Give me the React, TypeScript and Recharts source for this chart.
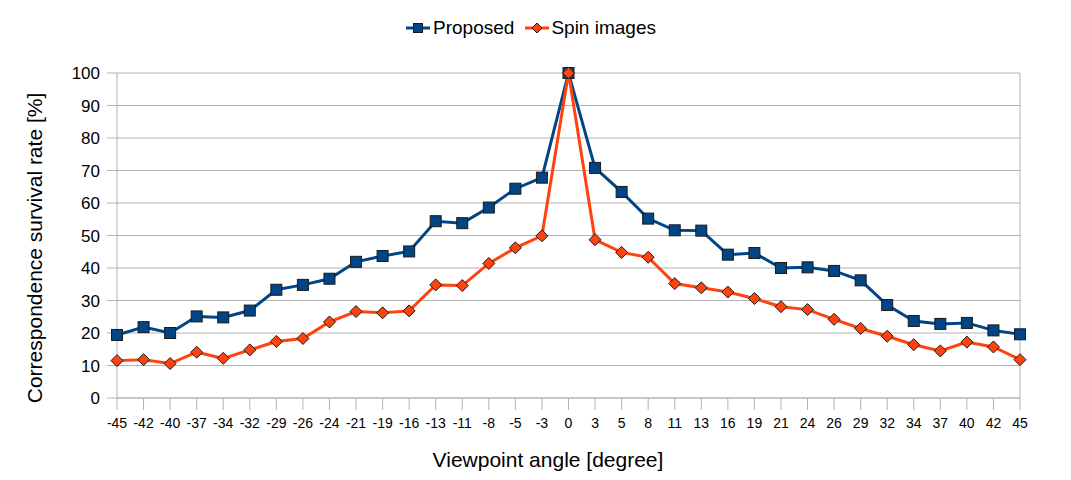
import React from 'react';
import { LineChart, Line, XAxis, YAxis, CartesianGrid, Legend, ReferenceLine, Label } from 'recharts';

const angles = [
  -45, -42, -40, -37, -34, -32, -29, -26, -24, -21, -19, -16, -13, -11, -8, -5, -3, 0,
  3, 5, 8, 11, 13, 16, 19, 21, 24, 26, 29, 32, 34, 37, 40, 42, 45,
];

const proposed = [
  19.4, 21.8, 20.0, 25.1, 24.8, 26.9, 33.3, 34.8, 36.7, 41.9, 43.7, 45.1, 54.4, 53.8, 58.6, 64.4, 67.8, 100,
  70.8, 63.4, 55.2, 51.6, 51.5, 44.1, 44.6, 40.0, 40.2, 39.1, 36.2, 28.6, 23.7, 22.8, 23.1, 20.8, 19.6,
];

const spinImages = [
  11.5, 11.8, 10.6, 14.1, 12.2, 14.8, 17.4, 18.3, 23.4, 26.6, 26.2, 26.8, 34.8, 34.6, 41.4, 46.2, 49.9, 100,
  48.7, 44.8, 43.3, 35.2, 33.9, 32.6, 30.6, 28.1, 27.2, 24.2, 21.4, 19.0, 16.4, 14.5, 17.2, 15.7, 11.8,
];

const yTicks = [0, 10, 20, 30, 40, 50, 60, 70, 80, 90, 100];

const FONT = '"Liberation Sans", Arial, sans-serif';
const BLUE = '#004586';
const ORANGE = '#ff420e';
const GRID = '#b3b3b3';

const data = angles.map((angle, i) => ({
  angle,
  proposed: proposed[i],
  spin: spinImages[i],
}));

const SquareDot = (props: any) => {
  const { cx, cy } = props;
  if (cx == null || cy == null) return null;
  return <rect x={cx - 5.5} y={cy - 5.5} width={11} height={11} fill={BLUE} stroke="#1a1a1a" strokeWidth={1} />;
};

const DiamondDot = (props: any) => {
  const { cx, cy } = props;
  if (cx == null || cy == null) return null;
  const r = 6;
  return (
    <path
      d={`M${cx},${cy - r}L${cx + r},${cy}L${cx},${cy + r}L${cx - r},${cy}Z`}
      fill={ORANGE}
      stroke="#1a1a1a"
      strokeWidth={1}
    />
  );
};

const LegendContent = () => (
  <div style={{ height: 63 }}>
    <div
      style={{
        height: 36,
        display: 'flex',
        alignItems: 'center',
        justifyContent: 'center',
        fontFamily: FONT,
        fontSize: 19,
        color: '#000',
        paddingLeft: 42,
      }}
    >
      <svg width={24} height={14} style={{ marginRight: 3 }}>
        <line x1={0} y1={7} x2={24} y2={7} stroke={BLUE} strokeWidth={3} />
        <rect x={7.5} y={2.5} width={9} height={9} fill={BLUE} stroke="#1a1a1a" />
      </svg>
      <span>Proposed</span>
      <svg width={24} height={14} style={{ marginLeft: 11, marginRight: 2 }}>
        <line x1={0} y1={7} x2={24} y2={7} stroke={ORANGE} strokeWidth={3} />
        <path d="M12,2L17,7L12,12L7,7Z" fill={ORANGE} stroke="#1a1a1a" />
      </svg>
      <span>Spin images</span>
    </div>
  </div>
);

export default function App() {
  return (
    <div style={{ position: 'absolute', left: 0, top: 0, width: 1071, height: 480, background: '#fff' }}>
      <LineChart width={1071} height={480} data={data} margin={{ top: 10, right: 51, bottom: 0, left: 0 }}>
        <CartesianGrid vertical={false} stroke={GRID} />
        <XAxis
          dataKey="angle"
          interval={0}
          tickSize={12}
          tickMargin={8}
          height={82}
          stroke={GRID}
          tickLine={{ stroke: GRID }}
          tick={{ fontSize: 14, fill: '#000', fontFamily: FONT }}
        >
          <Label
            content={() => (
              <text x={548} y={467} textAnchor="middle" fontSize={21} fontFamily={FONT} fill="#000">
                Viewpoint angle [degree]
              </text>
            )}
          />
        </XAxis>
        <YAxis
          domain={[0, 100]}
          ticks={yTicks}
          width={117}
          tickSize={10}
          tickMargin={7}
          stroke={GRID}
          tickLine={{ stroke: GRID }}
          tick={{ fontSize: 17, fill: '#000', fontFamily: FONT }}
        >
          <Label
            content={() => (
              <text
                x={42}
                y={248}
                transform="rotate(-90 42 248)"
                textAnchor="middle"
                fontSize={21}
                fontFamily={FONT}
                fill="#000"
              >
                Correspondence survival rate [%]
              </text>
            )}
          />
        </YAxis>
        <ReferenceLine x={45} stroke={GRID} />
        <Legend verticalAlign="top" content={<LegendContent />} />
        <Line
          dataKey="proposed"
          name="Proposed"
          stroke={BLUE}
          strokeWidth={3}
          dot={<SquareDot />}
          activeDot={false}
          isAnimationActive={false}
        />
        <Line
          dataKey="spin"
          name="Spin images"
          stroke={ORANGE}
          strokeWidth={3}
          dot={<DiamondDot />}
          activeDot={false}
          isAnimationActive={false}
        />
      </LineChart>
    </div>
  );
}
